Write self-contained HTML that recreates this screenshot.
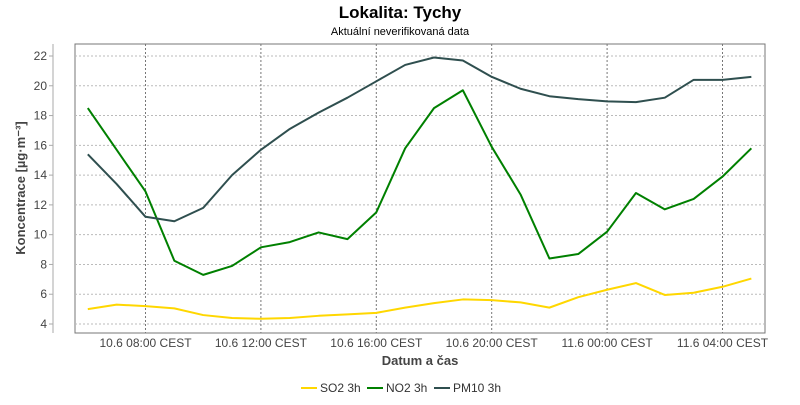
<!DOCTYPE html>
<html><head><meta charset="utf-8"><style>
body{margin:0;background:#fff;font-family:"Liberation Sans",sans-serif}
svg text{font-family:"Liberation Sans",sans-serif}
</style></head><body>
<svg id="c" width="800" height="400" xmlns="http://www.w3.org/2000/svg">
<text x="400" y="18" text-anchor="middle" font-size="17" font-weight="bold" fill="#000">Lokalita: Tychy</text>
<text x="400" y="35" text-anchor="middle" font-size="11" fill="#000">Aktuální neverifikovaná data</text>
<rect x="75" y="44" width="690" height="289" fill="#fff" stroke="#777"/>
<line x1="53" y1="44" x2="53" y2="333" stroke="#aaa"/>
<g id="grid"></g><g id="series"></g>
<text transform="translate(25,188) rotate(-90)" text-anchor="middle" font-size="13" font-weight="bold" fill="#444">Koncentrace [µg·m⁻³]</text>
<text x="420" y="365" text-anchor="middle" font-size="13" font-weight="bold" fill="#444">Datum a čas</text>
<g>
<g><line x1="301" y1="388" x2="317" y2="388" stroke="#FFD700" stroke-width="2"/><text x="320" y="392" font-size="12" fill="#333">SO2 3h</text></g>
<g><line x1="367" y1="388" x2="383" y2="388" stroke="#008000" stroke-width="2"/><text x="386" y="392" font-size="12" fill="#333">NO2 3h</text></g>
<g><line x1="434" y1="388" x2="450" y2="388" stroke="#2F4F4F" stroke-width="2"/><text x="453" y="392" font-size="12" fill="#333">PM10 3h</text></g>
</g>
</svg>
<script>
const hours=[6,7,8,9,10,11,12,13,14,15,16,17,18,19,20,21,22,23,24,25,26,27,28,29];
const so2=[5.0,5.3,5.2,5.05,4.6,4.4,4.35,4.4,4.55,4.65,4.75,5.1,5.4,5.65,5.6,5.45,5.1,5.8,6.3,6.75,5.95,6.1,6.5,7.05];
const no2=[18.5,15.7,12.9,8.25,7.3,7.9,9.15,9.5,10.15,9.7,11.5,15.8,18.5,19.7,15.9,12.7,8.4,8.7,10.2,12.8,11.7,12.4,13.9,15.8];
const pm10=[15.4,13.4,11.2,10.9,11.8,14.0,15.7,17.1,18.2,19.2,20.3,21.4,21.9,21.7,20.6,19.8,19.3,19.1,18.95,18.9,19.2,20.4,20.4,20.6];
const yTicks=[4,6,8,10,12,14,16,18,20,22];
const xTickHours=[8,12,16,20,24,28];
const xTickLabels=["10.6 08:00 CEST","10.6 12:00 CEST","10.6 16:00 CEST","10.6 20:00 CEST","11.6 00:00 CEST","11.6 04:00 CEST"];
const NS="http://www.w3.org/2000/svg";
const xS=h=>145.5+(h-8)*28.85;
const yS=v=>324-(v-4)*(268/18);
const grid=document.getElementById('grid'),ser=document.getElementById('series');
function mk(tag,attrs,parent){const e=document.createElementNS(NS,tag);for(const k in attrs)e.setAttribute(k,attrs[k]);parent.appendChild(e);return e;}
yTicks.forEach(v=>{
 const l=mk('line',{x1:75,x2:765,y1:yS(v),y2:yS(v),stroke:'#bbb','stroke-dasharray':'2,2'},grid);
 
 
 mk('line',{x1:49,x2:53,y1:yS(v),y2:yS(v),stroke:'#aaa'},grid);
 const t=mk('text',{x:47,y:yS(v)+4,'text-anchor':'end','font-size':12,fill:'#444'},grid);
 t.textContent=v;
 
 
});
xTickHours.forEach((h,i)=>{
 const l=mk('line',{x1:xS(h),x2:xS(h),y1:44,y2:333,stroke:'#777','stroke-dasharray':'2,2'},grid);
 
 
 const t=mk('text',{x:xS(h),y:347,'text-anchor':'middle','font-size':12,fill:'#444'},grid);
 t.textContent=xTickLabels[i];
 
 
});
[[so2,'#FFD700','so2'],[no2,'#008000','no2'],[pm10,'#2F4F4F','pm10']].forEach(([d,c,n])=>{
 const p=mk('polyline',{points:d.map((v,i)=>xS(hours[i])+','+yS(v)).join(' '),fill:'none',stroke:c,'stroke-width':2,'stroke-linejoin':'round'},ser);
 
 
});
</script>
</body></html>
